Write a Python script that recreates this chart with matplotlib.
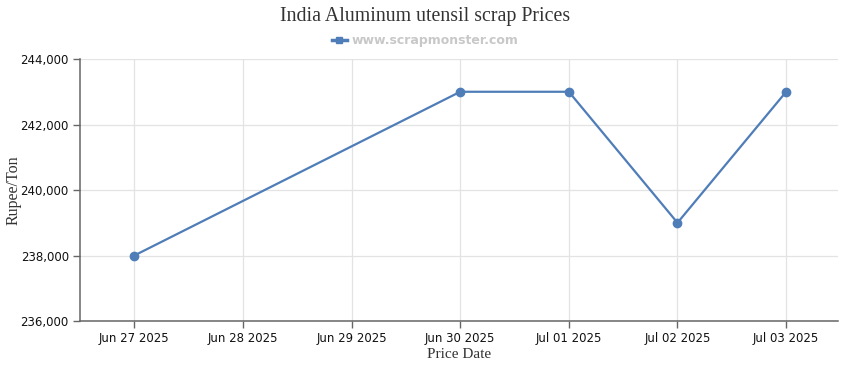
import datetime as dt
import matplotlib
matplotlib.use("Agg")
import matplotlib.pyplot as plt
import matplotlib.dates as mdates
from matplotlib.lines import Line2D
from matplotlib.ticker import FuncFormatter

# data
price_dates = ["2025-06-27", "2025-06-30", "2025-07-01", "2025-07-02", "2025-07-03"]
prices = [238000, 243000, 243000, 239000, 243000]
axis_start = "2025-06-27"
axis_end = "2025-07-03"
y_ticks = [236000, 238000, 240000, 242000, 244000]

x = [dt.datetime.strptime(d, "%Y-%m-%d") for d in price_dates]
x0 = dt.datetime.strptime(axis_start, "%Y-%m-%d")
x1 = dt.datetime.strptime(axis_end, "%Y-%m-%d")

blue = "#4f7db8"
grid = "#e3e3e3"
axc = "#666666"

fig = plt.figure(figsize=(8.5, 3.7), dpi=100)
ax = fig.add_axes([0.0941, 0.1324, 0.892, 0.7081])

ax.plot(x, prices, color=blue, lw=1.6, marker="o", ms=6, zorder=3)

ax.set_xlim(x0 - dt.timedelta(hours=12), x1 + dt.timedelta(hours=11.5))
ax.set_ylim(y_ticks[0], y_ticks[-1])
ax.set_yticks(y_ticks)
ax.yaxis.set_major_formatter(FuncFormatter(lambda v, p: f"{int(v):,}"))
ax.xaxis.set_major_locator(mdates.DayLocator())
ax.xaxis.set_major_formatter(mdates.DateFormatter("%b %d %Y"))

ax.grid(True, color=grid, lw=0.9)
ax.set_axisbelow(True)
for s in ["top", "right"]:
    ax.spines[s].set_visible(False)
for s in ["left", "bottom"]:
    ax.spines[s].set_color(axc)
    ax.spines[s].set_linewidth(1.1)
ax.tick_params(axis="both", color=axc, length=5, width=1, labelsize=8.5,
               labelcolor="#111111", pad=3)

serif = ["Liberation Serif", "DejaVu Serif"]
fig.text(0.016, 0.486, "Rupee/Ton", family=serif, fontsize=11.5, color="#333333",
         rotation=90, ha="center", va="center")
ax.set_xlabel("Price Date", family=serif, fontsize=11, color="#333333", labelpad=2)
fig.text(0.5, 0.955, "India Aluminum utensil scrap Prices", family=serif,
         fontsize=14.3, color="#333333", ha="center", va="center")

handle = Line2D([], [], color=blue, lw=2.5, marker="s", ms=5)
leg = fig.legend([handle], ["www.scrapmonster.com"], loc="center",
                 bbox_to_anchor=(0.5, 0.89), frameon=False, handlelength=1.2,
                 handletextpad=0.4, prop={"size": 9, "weight": "bold"})
for t in leg.get_texts():
    t.set_color("#c8c8c8")

fig.savefig("out.png", dpi=100)
